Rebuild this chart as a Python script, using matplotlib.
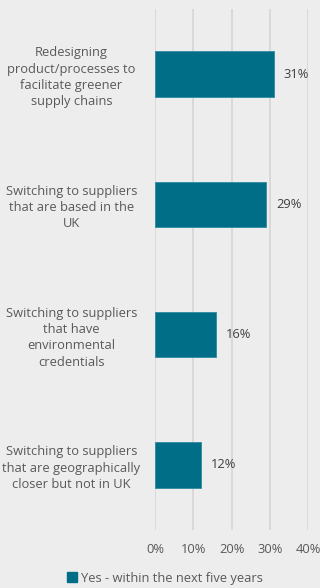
import matplotlib.pyplot as plt
from matplotlib.patches import Patch

categories = ["Redesigning\nproduct/processes to\nfacilitate greener\nsupply chains",
              "Switching to suppliers\nthat are based in the\nUK",
              "Switching to suppliers\nthat have\nenvironmental\ncredentials",
              "Switching to suppliers\nthat are geographically\ncloser but not in UK"]
values = [31, 29, 16, 12]
ticks = [0, 10, 20, 30, 40]
series_name = "Yes - within the next five years"

bg = '#EDEDED'
bar_col = '#006E87'
txt = '#595959'
fs = 9.3

plt.rcParams['font.family'] = ['Open Sans', 'DejaVu Sans']

fig = plt.figure(figsize=(3.2, 5.88), dpi=100, facecolor=bg)
ax = fig.add_axes([0.484, 0.0986, 0.48, 0.886], facecolor=bg)

ypos = list(range(len(categories)))
ax.barh(ypos, values, height=0.35, color=bar_col, edgecolor='#2E8AA0', lw=0.6, zorder=3)
for y, v in zip(ypos, values):
    ax.text(v + 2.6, y, f"{v}%", va='center', ha='left', fontsize=fs, color='#404040')

ax.set_ylim(len(categories) - 0.5, -0.5)
ax.set_xlim(0, 40)
ax.set_xticks(ticks)
ax.set_xticklabels([f"{t}%" for t in ticks], fontsize=fs, color=txt)
ax.set_yticks(ypos)
ax.set_yticklabels(categories, fontsize=fs, color=txt, ha='center', linespacing=1.32)
ax.tick_params(axis='y', length=0, pad=60)
ax.tick_params(axis='x', length=0, pad=9)
ax.grid(axis='x', color='#D6D6D6', lw=1.2, zorder=0)
ax.set_axisbelow(True)
for s in ax.spines.values():
    s.set_visible(False)

fig.legend(handles=[Patch(color=bar_col, label=series_name)], loc='center',
           bbox_to_anchor=(0.515, 0.017), frameon=False, fontsize=fs,
           labelcolor=txt, handlelength=0.75, handleheight=0.75, handletextpad=0.3)

fig.savefig('out.png', dpi=100, facecolor=bg)
